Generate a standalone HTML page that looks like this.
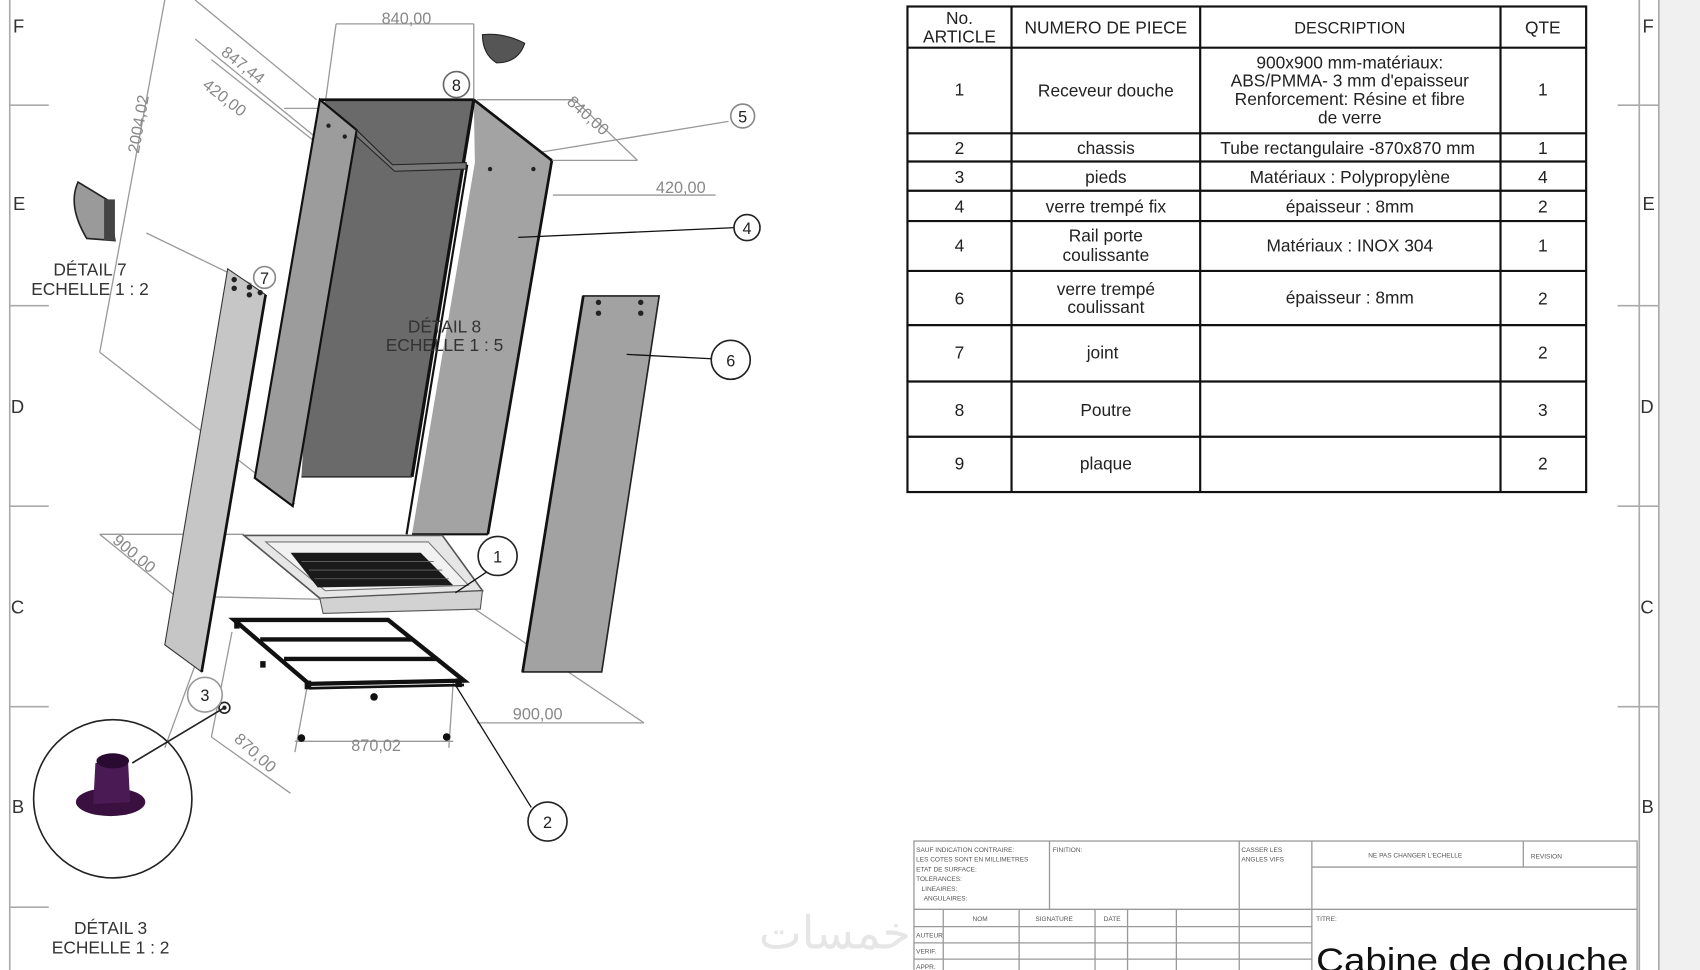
<!DOCTYPE html>
<html><head><meta charset="utf-8"><style>
html,body{margin:0;padding:0;background:#fff;}
svg{display:block;}
text{font-family:"Liberation Sans",sans-serif;}
</style></head><body>
<svg width="1700" height="970" viewBox="0 0 1568 895" preserveAspectRatio="none" xmlns="http://www.w3.org/2000/svg">
<rect x="0" y="0" width="1568" height="895" fill="#fff"/>
<rect x="1530" y="0" width="38" height="895" fill="#f0f0f0"/>
<g stroke="#aaa" stroke-width="1.5" fill="none">
<line x1="9" y1="0" x2="9" y2="895"/><line x1="1530" y1="0" x2="1530" y2="895"/>
<line x1="1512" y1="0" x2="1512" y2="895"/>
<line x1="9" y1="97" x2="45" y2="97"/><line x1="9" y1="282" x2="45" y2="282"/><line x1="9" y1="467" x2="45" y2="467"/><line x1="9" y1="652" x2="45" y2="652"/><line x1="9" y1="837" x2="45" y2="837"/>
<line x1="1492" y1="97" x2="1530" y2="97"/><line x1="1492" y1="282" x2="1530" y2="282"/><line x1="1492" y1="467" x2="1530" y2="467"/><line x1="1492" y1="652" x2="1530" y2="652"/>
</g>
<g font-size="17" fill="#333">
<text x="12" y="30">F</text><text x="12" y="194">E</text><text x="10" y="381">D</text><text x="10" y="566">C</text><text x="11" y="750">B</text>
<text x="1515" y="30">F</text><text x="1515" y="194">E</text><text x="1513" y="381">D</text><text x="1513" y="566">C</text><text x="1514" y="750">B</text>
</g>

<g stroke="#999" stroke-width="1.2" fill="none">
<line x1="152" y1="0" x2="92" y2="325"/>
<line x1="92" y1="325" x2="272" y2="465"/>
<line x1="180" y1="0" x2="292" y2="92"/>
<line x1="180" y1="36" x2="310" y2="142"/>
<line x1="195" y1="55" x2="340" y2="170"/>
<line x1="310" y1="22" x2="437" y2="22"/><line x1="310" y1="22" x2="300" y2="95"/><line x1="437" y1="22" x2="437" y2="92"/>
<line x1="262" y1="100" x2="300" y2="100"/>
<line x1="440" y1="92" x2="530" y2="92"/><line x1="530" y1="92" x2="588" y2="148"/><line x1="510" y1="148" x2="588" y2="148"/>
<line x1="510" y1="180" x2="660" y2="180"/>
<line x1="440" y1="150" x2="672" y2="112"/>
<line x1="135" y1="215" x2="232" y2="262"/>
<line x1="92" y1="493" x2="225" y2="493"/><line x1="92" y1="493" x2="162" y2="550"/><line x1="162" y1="550" x2="300" y2="553"/>
<line x1="420" y1="550" x2="594" y2="667"/><line x1="440" y1="667" x2="594" y2="667"/>
<line x1="272" y1="684" x2="418" y2="684"/><line x1="284" y1="630" x2="272" y2="694"/><line x1="418" y1="630" x2="414" y2="690"/>
<line x1="195" y1="680" x2="268" y2="732"/><line x1="214" y1="583" x2="195" y2="680"/>
<line x1="152" y1="690" x2="185" y2="600"/>
</g>
<g font-size="15" fill="#888">
<text x="352" y="22">840,00</text>
<text x="203" y="50" transform="rotate(38 203 50)">847,44</text>
<text x="186" y="80" transform="rotate(38 186 80)">420,00</text>
<text x="522" y="95" transform="rotate(42 522 95)">840,00</text>
<text x="605" y="178">420,00</text>
<text x="128" y="142" transform="rotate(-80 128 142)">2004,02</text>
<text x="103" y="500" transform="rotate(40 103 500)">900,00</text>
<text x="473" y="664">900,00</text>
<text x="324" y="693">870,02</text>
<text x="215" y="683" transform="rotate(42 215 683)">870,00</text>
</g>

<polygon points="210,248 245,272 186,620 152,595" fill="#c6c6c6" stroke="#333" stroke-width="1"/>
<line x1="245" y1="272" x2="186" y2="620" stroke="#111" stroke-width="2.5"/>
<g fill="#222"><circle cx="216" cy="258" r="2.5"/><circle cx="216" cy="266" r="2.5"/><circle cx="230" cy="265" r="2.5"/><circle cx="230" cy="272" r="2.5"/><circle cx="240" cy="270" r="2.5"/></g>

<polygon points="300,93 437,92 380,440 278,440" fill="#6a6a6a"/>
<polygon points="295,92 329,120 270,467 235,441" fill="#9c9c9c" stroke="#111" stroke-width="2"/>
<polygon points="437,92 509,148 450,493 380,493 438,150" fill="#a3a3a3"/>
<line x1="295" y1="92" x2="437" y2="92" stroke="#111" stroke-width="2.5"/>
<line x1="437" y1="92" x2="509" y2="148" stroke="#111" stroke-width="2.5"/>
<line x1="509" y1="148" x2="450" y2="493" stroke="#111" stroke-width="2.5"/>
<line x1="437" y1="92" x2="380" y2="440" stroke="#111" stroke-width="3"/>
<line x1="431" y1="152" x2="375" y2="493" stroke="#111" stroke-width="2"/>
<line x1="380" y1="493" x2="450" y2="493" stroke="#111" stroke-width="2"/>
<line x1="278" y1="440" x2="380" y2="440" stroke="#333" stroke-width="1.5"/>
<polygon points="329,120 362,152 430,150 430,156 364,158 329,126" fill="#777" stroke="#222" stroke-width="1"/>
<g fill="#222"><circle cx="303" cy="116" r="2"/><circle cx="318" cy="126" r="2"/><circle cx="452" cy="156" r="2"/><circle cx="492" cy="156" r="2"/></g>
<line x1="478" y1="219" x2="678" y2="210" stroke="#111" stroke-width="1.2"/>
<text x="410" y="307" font-size="16" fill="#333" text-anchor="middle">DÉTAIL 8</text>
<text x="410" y="324" font-size="16" fill="#333" text-anchor="middle">ECHELLE 1 : 5</text>

<polygon points="538,273 608,273 555,620 482,620" fill="#a2a2a2" stroke="#222" stroke-width="1.5"/>
<line x1="538" y1="273" x2="482" y2="620" stroke="#111" stroke-width="2.5"/>
<g fill="#222"><circle cx="552" cy="279" r="2.5"/><circle cx="552" cy="289" r="2.5"/><circle cx="591" cy="279" r="2.5"/><circle cx="591" cy="289" r="2.5"/></g>
<line x1="578" y1="327" x2="656" y2="331" stroke="#111" stroke-width="1.2"/>

<polygon points="225,494 408,494 445,545 295,552" fill="#e6e6e6" stroke="#555" stroke-width="1.5"/>
<polygon points="295,552 445,545 443,562 298,566" fill="#d2d2d2" stroke="#555" stroke-width="1"/>
<polygon points="245,500 395,500 432,540 300,545" fill="#f2f2f2" stroke="#777" stroke-width="1"/>
<polygon points="268,510 388,510 418,540 293,542" fill="#1a1a1a"/>
<g stroke="#666" stroke-width="0.8"><line x1="278" y1="518" x2="400" y2="518"/><line x1="285" y1="526" x2="408" y2="526"/><line x1="290" y1="534" x2="414" y2="534"/></g>
<line x1="420" y1="547" x2="450" y2="527" stroke="#111" stroke-width="1.2"/>

<g fill="none" stroke="#111" stroke-width="4">
<polygon points="216,572 358,572 428,628 285,631"/>
<line x1="240" y1="590" x2="380" y2="590"/>
<line x1="262" y1="608" x2="404" y2="608"/>
</g>
<line x1="285" y1="635" x2="428" y2="632" stroke="#111" stroke-width="2.5"/>
<g fill="#111"><rect x="281" y="628" width="6" height="8"/><rect x="420" y="626" width="6" height="8"/><rect x="240" y="610" width="5" height="6"/><rect x="216" y="572" width="5" height="8"/><circle cx="345" cy="643" r="3.5"/><circle cx="278" cy="681" r="3.5"/><circle cx="412" cy="680" r="3.5"/></g>
<line x1="420" y1="632" x2="490" y2="745" stroke="#111" stroke-width="1.2"/>

<circle cx="104" cy="737" r="73" fill="none" stroke="#222" stroke-width="1.5"/>
<circle cx="207" cy="653" r="5" fill="none" stroke="#222" stroke-width="1.5"/><circle cx="207" cy="653" r="2" fill="#222"/>
<line x1="207" y1="653" x2="122" y2="704" stroke="#222" stroke-width="1.5"/>
<ellipse cx="102" cy="740" rx="32" ry="13" fill="#3a1040"/>
<polygon points="88,704 118,700 120,740 86,742" fill="#4a1a55"/>
<ellipse cx="104" cy="702" rx="15" ry="7" fill="#2a0a30"/>
<text x="102" y="862" font-size="16" fill="#333" text-anchor="middle">DÉTAIL 3</text>
<text x="102" y="880" font-size="16" fill="#333" text-anchor="middle">ECHELLE 1 : 2</text>

<path d="M72,168 L100,185 L106,222 L80,220 Q62,190 72,168Z" fill="#9a9a9a" stroke="#222" stroke-width="1.5"/>
<rect x="96" y="184" width="10" height="38" fill="#444"/>
<text x="83" y="254" font-size="16" fill="#333" text-anchor="middle">DÉTAIL 7</text>
<text x="83" y="272" font-size="16" fill="#333" text-anchor="middle">ECHELLE 1 : 2</text>
<path d="M445,32 Q465,30 484,40 Q478,58 458,58 Q445,50 445,32Z" fill="#555" stroke="#222" stroke-width="1"/>

<g fill="#fff" stroke="#222" stroke-width="1.5">
<circle cx="421" cy="78" r="12" stroke="#666"/><circle cx="685" cy="107" r="11" stroke="#888"/>
<circle cx="689" cy="210" r="12"/><circle cx="244" cy="256" r="10" stroke="#888"/>
<circle cx="674" cy="332" r="18"/><circle cx="459" cy="513" r="18"/>
<circle cx="189" cy="641" r="16" stroke="#999"/><circle cx="505" cy="758" r="18"/>
</g>
<g font-size="15" fill="#222" text-anchor="middle">
<text x="421" y="84">8</text><text x="685" y="113">5</text><text x="689" y="216">4</text><text x="244" y="262">7</text>
<text x="674" y="338">6</text><text x="459" y="519">1</text><text x="189" y="647">3</text><text x="505" y="764">2</text>
</g>

<g stroke="#111" stroke-width="2" fill="none">
<rect x="837" y="6" width="626" height="448"/>
<line x1="933" y1="6" x2="933" y2="454"/><line x1="1107" y1="6" x2="1107" y2="454"/><line x1="1384" y1="6" x2="1384" y2="454"/>
<line x1="837" y1="44" x2="1463" y2="44"/><line x1="837" y1="123" x2="1463" y2="123"/><line x1="837" y1="149" x2="1463" y2="149"/>
<line x1="837" y1="176" x2="1463" y2="176"/><line x1="837" y1="204" x2="1463" y2="204"/><line x1="837" y1="250" x2="1463" y2="250"/>
<line x1="837" y1="300" x2="1463" y2="300"/><line x1="837" y1="352" x2="1463" y2="352"/><line x1="837" y1="403" x2="1463" y2="403"/>
</g>
<g font-size="16" fill="#222" text-anchor="middle">
<text x="885" y="22">No.</text><text x="885" y="39">ARTICLE</text>
<text x="1020" y="31">NUMERO DE PIECE</text><text x="1245" y="31" font-size="15">DESCRIPTION</text><text x="1423" y="31">QTE</text>
<text x="885" y="88">1</text><text x="1020" y="89">Receveur douche</text>
<text x="1245" y="63">900x900 mm-matériaux:</text><text x="1245" y="80">ABS/PMMA- 3 mm d'epaisseur</text><text x="1245" y="97">Renforcement: Résine et fibre</text><text x="1245" y="114">de verre</text><text x="1423" y="88">1</text>
<text x="885" y="142">2</text><text x="1020" y="142">chassis</text><text x="1243" y="142">Tube rectangulaire -870x870 mm</text><text x="1423" y="142">1</text>
<text x="885" y="169">3</text><text x="1020" y="169">pieds</text><text x="1245" y="169">Matériaux : Polypropylène</text><text x="1423" y="169">4</text>
<text x="885" y="196">4</text><text x="1020" y="196">verre trempé fix</text><text x="1245" y="196">épaisseur : 8mm</text><text x="1423" y="196">2</text>
<text x="885" y="232">4</text><text x="1020" y="223">Rail porte</text><text x="1020" y="241">coulissante</text><text x="1245" y="232">Matériaux : INOX 304</text><text x="1423" y="232">1</text>
<text x="885" y="281">6</text><text x="1020" y="272">verre trempé</text><text x="1020" y="289">coulissant</text><text x="1245" y="280">épaisseur : 8mm</text><text x="1423" y="281">2</text>
<text x="885" y="331">7</text><text x="1017" y="331">joint</text><text x="1423" y="331">2</text>
<text x="885" y="384">8</text><text x="1020" y="384">Poutre</text><text x="1423" y="384">3</text>
<text x="885" y="433">9</text><text x="1020" y="433">plaque</text><text x="1423" y="433">2</text>
</g>

<g stroke="#999" stroke-width="1.2" fill="none">
<rect x="843" y="776" width="667" height="130"/>
<line x1="1210" y1="800" x2="1510" y2="800"/><line x1="843" y1="839" x2="1510" y2="839"/>
<line x1="968" y1="776" x2="968" y2="839"/><line x1="1143" y1="776" x2="1143" y2="895"/><line x1="1210" y1="776" x2="1210" y2="895"/><line x1="1405" y1="776" x2="1405" y2="800"/>
<line x1="870" y1="839" x2="870" y2="895"/><line x1="940" y1="839" x2="940" y2="895"/><line x1="1010" y1="839" x2="1010" y2="895"/><line x1="1040" y1="839" x2="1040" y2="895"/><line x1="1085" y1="839" x2="1085" y2="895"/>
<line x1="843" y1="855" x2="1210" y2="855"/><line x1="843" y1="870" x2="1210" y2="870"/><line x1="843" y1="885" x2="1210" y2="885"/>
</g>
<g font-size="6" fill="#555">
<text x="845" y="786">SAUF INDICATION CONTRAIRE:</text><text x="845" y="795">LES COTES SONT EN MILLIMETRES</text><text x="845" y="804">ETAT DE SURFACE:</text><text x="845" y="813">TOLERANCES:</text><text x="850" y="822">LINEAIRES:</text><text x="852" y="831">ANGULAIRES:</text>
<text x="971" y="786">FINITION:</text><text x="1145" y="786">CASSER LES</text><text x="1145" y="795">ANGLES VIFS</text>
<text x="1262" y="791">NE PAS CHANGER L'ECHELLE</text><text x="1412" y="792">REVISION</text>
<text x="897" y="850">NOM</text><text x="955" y="850">SIGNATURE</text><text x="1018" y="850">DATE</text><text x="1214" y="850">TITRE:</text>
<text x="845" y="865">AUTEUR</text><text x="845" y="880">VERIF.</text><text x="845" y="894">APPR.</text>
</g>
<text x="1214" y="897" font-size="32" fill="#111" textLength="288" lengthAdjust="spacingAndGlyphs">Cabine de douche</text>
<text x="770" y="875" font-size="42" fill="#e6e6e6" text-anchor="middle" font-family="'Liberation Sans','Noto Sans CJK SC',sans-serif">خمسات</text>
</svg>
</body></html>
